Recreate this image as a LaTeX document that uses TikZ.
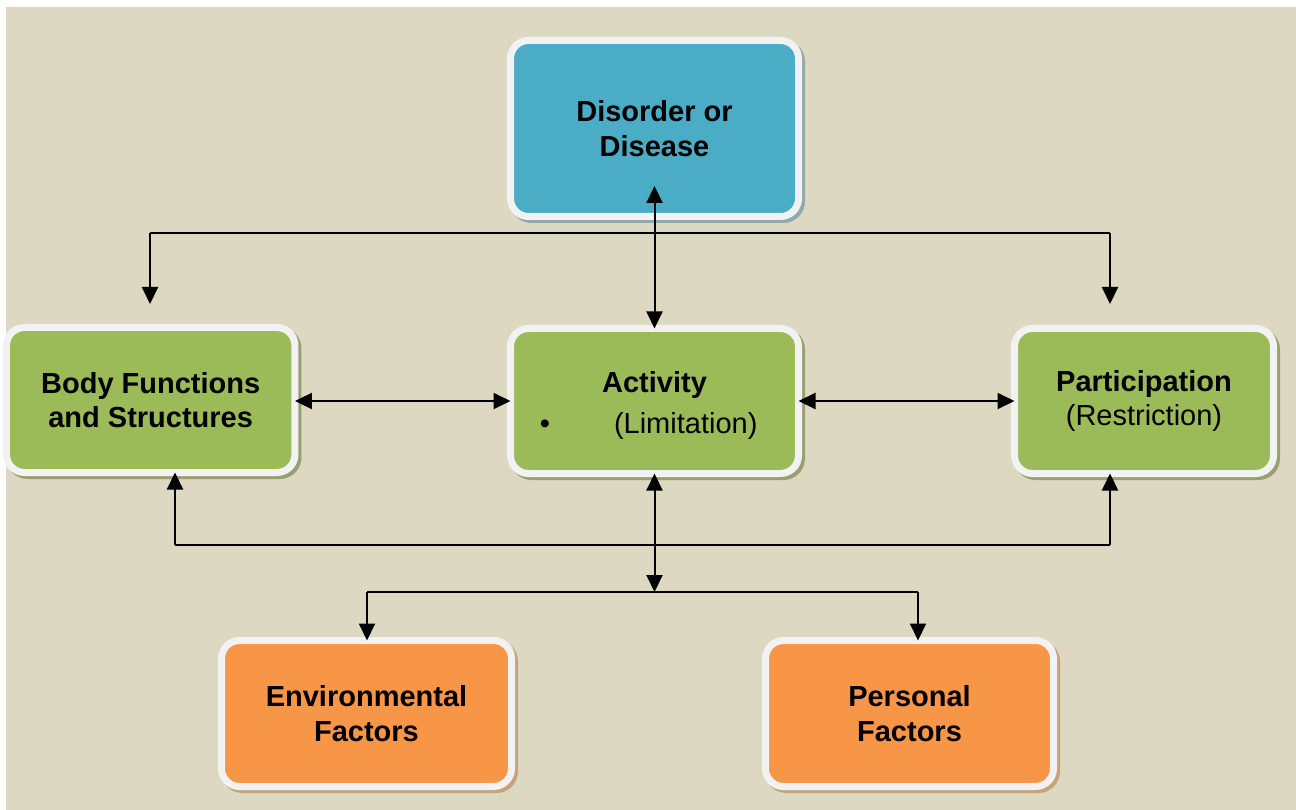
\documentclass[tikz,border=0pt]{standalone}
\usepackage{fontspec}
\setmainfont{Liberation Sans}
\usetikzlibrary{arrows.meta,shadows,calc}
\definecolor{bgc}{HTML}{DDD8C2}
\definecolor{boxwhite}{HTML}{F2F2F2}
\definecolor{blueC}{HTML}{4BACC6}
\definecolor{greenC}{HTML}{9BBB59}
\definecolor{orangeC}{HTML}{F79646}
\definecolor{blueSh}{HTML}{8FA9AD}
\definecolor{greenSh}{HTML}{98A06E}
\definecolor{orangeSh}{HTML}{C9A27A}
\tikzset{
  boxbase/.style={draw=boxwhite, line width=7pt, rounded corners=18pt, inner sep=0pt, outer sep=0pt,
    align=center, font=\fontsize{29}{34.5}\selectfont\bfseries},
  bluebox/.style={boxbase, fill=blueC, general shadow={fill=blueSh, draw=blueSh, line width=7pt, shadow xshift=3pt, shadow yshift=-3pt}},
  greenbox/.style={boxbase, fill=greenC, general shadow={fill=greenSh, draw=greenSh, line width=7pt, shadow xshift=3pt, shadow yshift=-3pt}},
  orangebox/.style={boxbase, fill=orangeC, general shadow={fill=orangeSh, draw=orangeSh, line width=7pt, shadow xshift=3pt, shadow yshift=-3pt}},
  conn/.style={line width=2pt, black},
  oneway/.style={-{Triangle[length=17pt,width=16pt]}},
  twoway/.style={{Triangle[length=17pt,width=16pt]}-{Triangle[length=17pt,width=16pt]}},
  txt/.style={inner sep=0pt, outer sep=0pt, font=\fontsize{29}{34.5}\selectfont}
}
\begin{document}
\begin{tikzpicture}[x=1pt,y=-1pt]
\useasboundingbox (0,0) rectangle (1296,810);
\fill[white] (0,0) rectangle (1296,810);
\fill[bgc] (6,7) rectangle (1296,810);

% boxes
\node[bluebox, minimum width=288pt, minimum height=176pt] (dis) at (654.5,128.5) {Disorder or\\Disease};
\node[greenbox, minimum width=288.5pt, minimum height=145pt] (body) at (150.7,400) {Body Functions\\and Structures};
\node[greenbox, minimum width=288pt, minimum height=145pt] (act) at (654.5,401) {};
\node[greenbox, minimum width=259pt, minimum height=145pt] (par) at (1144,401) {Participation\\{\mdseries(Restriction)}};
\node[orangebox, minimum width=290pt, minimum height=146pt] (env) at (366.5,713.5) {Environmental\\Factors};
\node[orangebox, minimum width=288pt, minimum height=146pt] (per) at (909.5,713.5) {Personal\\Factors};

% activity texts
\node[txt, anchor=base, font=\fontsize{29}{34.5}\selectfont\bfseries] (actT) at (654.5,392) {Activity};
\node[txt, anchor=base] (actB) at (545,433) {•};
\node[txt, anchor=base west] (actL) at (614,433) {(Limitation)};

% top distribution
\coordinate (tL) at (150,233);
\coordinate (tR) at (1110,233);
\coordinate (tLe) at (150,304);
\coordinate (tRe) at (1110,304);
\draw[conn] (tL) -- (tR);
\draw[conn,oneway] (tL) -- (tLe);
\draw[conn,oneway] (tR) -- (tRe);

% disorder <-> activity
\coordinate (dtip) at (654.5,186);
\draw[conn,twoway] (dtip) -- (act.north);

% horizontal links
\draw[conn,twoway] (body.east |- act.west) -- (act.west);
\draw[conn,twoway] (act.east) -- (par.west);

% bottom return line
\coordinate (bL) at (175,545);
\coordinate (bR) at (1110,545);
\draw[conn] (bL) -- (bR);
\draw[conn,oneway] (bL) -- (bL |- body.south);
\draw[conn,oneway] (bR) -- (bR |- par.south);

% activity <-> factors
\coordinate (mid) at (654.5,592);
\draw[conn,twoway] (act.south) -- (mid);
\coordinate (eL) at (367,592);
\coordinate (eR) at (918,592);
\draw[conn] (eL) -- (eR);
\draw[conn,oneway] (eL) -- (eL |- env.north);
\draw[conn,oneway] (eR) -- (eR |- per.north);
\end{tikzpicture}
\end{document}
